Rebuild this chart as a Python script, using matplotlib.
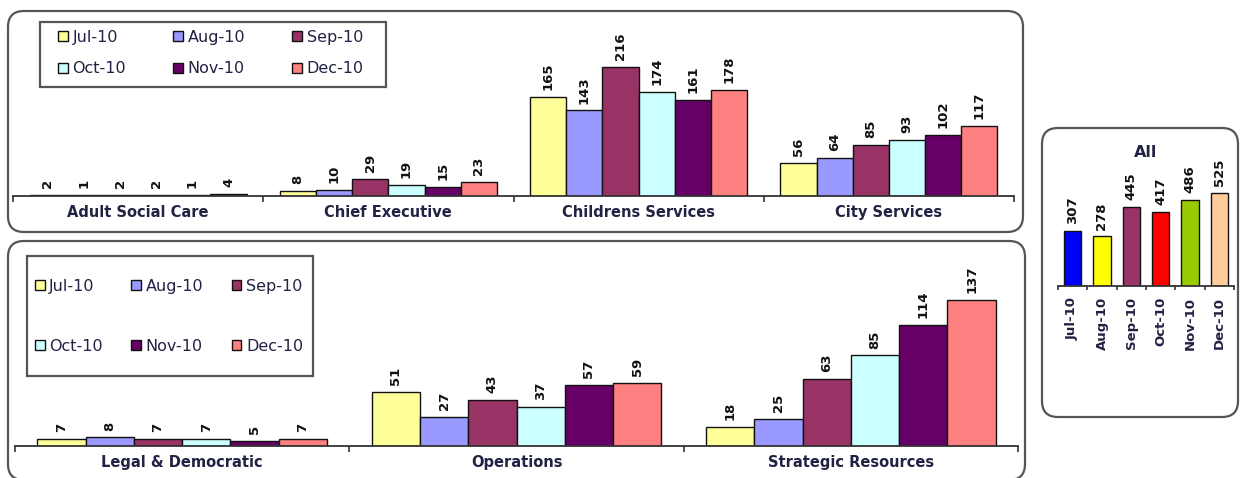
import matplotlib
matplotlib.use("Agg")
import matplotlib.pyplot as plt
from matplotlib.patches import FancyBboxPatch, Rectangle
from matplotlib.transforms import IdentityTransform
import numpy as np

plt.rcParams['font.family'] = ['DejaVu Sans']

months = ["Jul-10", "Aug-10", "Sep-10", "Oct-10", "Nov-10", "Dec-10"]
month_colors = ["#FFFF99", "#9999FF", "#993366", "#CCFFFF", "#660066", "#FF8080"]

top_categories = ["Adult Social Care", "Chief Executive", "Childrens Services", "City Services"]
top_values = {
    "Jul-10": [2, 8, 165, 56],
    "Aug-10": [1, 10, 143, 64],
    "Sep-10": [2, 29, 216, 85],
    "Oct-10": [2, 19, 174, 93],
    "Nov-10": [1, 15, 161, 102],
    "Dec-10": [4, 23, 178, 117],
}

bottom_categories = ["Legal & Democratic", "Operations", "Strategic Resources"]
bottom_values = {
    "Jul-10": [7, 51, 18],
    "Aug-10": [8, 27, 25],
    "Sep-10": [7, 43, 63],
    "Oct-10": [7, 37, 85],
    "Nov-10": [5, 57, 114],
    "Dec-10": [7, 59, 137],
}

all_values = [307, 278, 445, 417, 486, 525]
all_colors = ["#0000FF", "#FFFF00", "#993366", "#FF0000", "#99CC00", "#FFCC99"]

W, H = 1240, 478
TXT = "#222244"
fig = plt.figure(figsize=(W / 100, H / 100), dpi=100)


def frac(x0, y0_img, x1, y1_img):
    return [x0 / W, 1 - y1_img / H, (x1 - x0) / W, (y1_img - y0_img) / H]


def rbox(x0, y0, x1, y1, r=16):
    p = FancyBboxPatch((x0, H - y1), x1 - x0, y1 - y0,
                       boxstyle=f"round,pad=0,rounding_size={r}",
                       transform=IdentityTransform(), facecolor="white",
                       edgecolor="#555555", linewidth=1.6, zorder=-5)
    fig.add_artist(p)


def style_axis(ax, n, labels, pad):
    ax.set_facecolor("none")
    for s in ["left", "right", "top"]:
        ax.spines[s].set_visible(False)
    ax.spines["bottom"].set_color("#333333")
    ax.spines["bottom"].set_linewidth(1.3)
    ax.set_yticks([])
    ax.set_xlim(0, n)
    ax.set_xticks(np.arange(n + 1))
    ax.set_xticklabels([])
    ax.tick_params(axis="x", which="major", length=4, width=1.2, color="#333333", direction="out")
    ax.set_xticks(np.arange(n) + 0.5, minor=True)
    ax.set_xticklabels(labels, minor=True, fontsize=10.5, fontweight="bold", color=TXT)
    ax.tick_params(axis="x", which="minor", length=0, pad=pad)


def grouped(ax, cats, values, ymax):
    n = len(cats)
    bw = 0.1445
    x = np.arange(n) + 0.5
    handles = []
    for i, m in enumerate(months):
        bars = ax.bar(x + (i - 2.5) * bw, values[m], width=bw, color=month_colors[i],
                      edgecolor="#111111", linewidth=1.0, label=m)
        ax.bar_label(bars, padding=5, rotation=90, fontsize=9.5, fontweight="bold", color="#111111")
        handles.append(bars)
    ax.set_ylim(0, ymax)
    style_axis(ax, n, cats, 6.5)
    return handles


def row_order(items):
    # legend fills column-wise; reorder so rows read Jul, Aug, Sep / Oct, Nov, Dec
    return [items[0], items[3], items[1], items[4], items[2], items[5]]


rbox(8, 11, 1023, 232)
rbox(8, 241, 1025, 480)
rbox(1042, 128, 1238, 417)

ax1 = fig.add_axes(frac(13, 196 - 250 * 0.598, 1014, 196))
h1 = grouped(ax1, top_categories, top_values, 250)

ax2 = fig.add_axes(frac(15, 446 - 160 * 1.065, 1018, 446))
h2 = grouped(ax2, bottom_categories, bottom_values, 160)

fs = 11.5
leg1 = fig.legend(row_order(h1), row_order(months), ncol=3, loc="upper left",
                  bbox_to_anchor=(58.0 / W, 1 - 30.0 / H), frameon=False, fontsize=fs,
                  handlelength=0.6, handleheight=0.6, handletextpad=0.3,
                  columnspacing=2.95, labelspacing=1.03, borderpad=0, borderaxespad=0)
for t in leg1.get_texts():
    t.set_color(TXT)
fig.add_artist(Rectangle((40, H - 87), 346, 65, transform=IdentityTransform(),
                         facecolor="none", edgecolor="#555555", linewidth=1.6))

leg2 = fig.legend(row_order(h2), row_order(months), ncol=3, loc="upper left",
                  bbox_to_anchor=(35.0 / W, 1 - 278.5 / H), frameon=False, fontsize=fs,
                  handlelength=0.6, handleheight=0.6, handletextpad=0.3,
                  columnspacing=1.77, labelspacing=2.84, borderpad=0, borderaxespad=0)
for t in leg2.get_texts():
    t.set_color(TXT)
fig.add_artist(Rectangle((27, H - 376), 286, 120, transform=IdentityTransform(),
                         facecolor="none", edgecolor="#555555", linewidth=1.6))

ax3 = fig.add_axes(frac(1058, 285.7 - 600 * 0.177, 1234, 285.7))
xa = np.arange(len(months)) + 0.5
bars = ax3.bar(xa, all_values, width=0.58, color=all_colors, edgecolor="#111111", linewidth=1.0)
ax3.bar_label(bars, padding=5, rotation=90, fontsize=9.5, fontweight="bold", color="#111111")
ax3.set_ylim(0, 600)
ax3.set_facecolor("none")
for s in ["left", "right", "top"]:
    ax3.spines[s].set_visible(False)
ax3.spines["bottom"].set_color("#333333")
ax3.spines["bottom"].set_linewidth(1.3)
ax3.set_yticks([])
ax3.set_xlim(0, 6)
ax3.set_xticks(np.arange(7))
ax3.set_xticklabels([])
ax3.tick_params(axis="x", which="major", length=3, width=1.2, color="#333333")
ax3.set_xticks(xa, minor=True)
ax3.set_xticklabels(months, minor=True, rotation=90, fontsize=9.5, fontweight="bold", color=TXT)
ax3.tick_params(axis="x", which="minor", length=0, pad=8)
ax3.set_title("All", fontsize=11.5, fontweight="bold", color=TXT, pad=16)

fig.savefig("out.png", dpi=100)
